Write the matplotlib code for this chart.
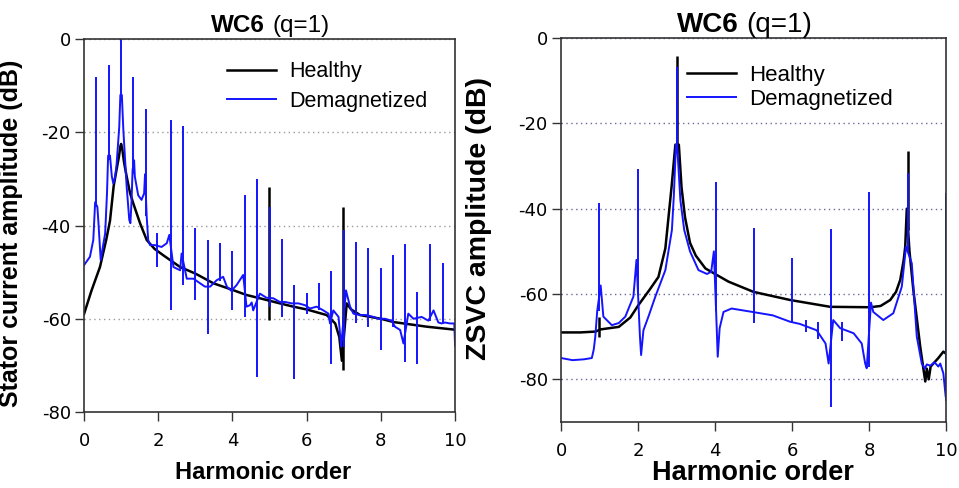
import matplotlib
matplotlib.use("Agg")
import matplotlib.pyplot as plt

plt.rcParams['font.family'] = ['Liberation Sans', 'DejaVu Sans']
plt.rcParams['axes.unicode_minus'] = False

# ---- left panel: stator current spectrum (dB) ----
# smooth part of each trace
cur_h_x = [0, 0.2, 0.43, 0.6, 0.7, 0.8, 0.9, 0.94, 0.98, 1.0, 1.03, 1.08, 1.15, 1.24, 1.33,
           1.51, 1.69, 1.9, 2.14, 2.59, 3.0, 3.49, 4.0, 4.38, 4.74, 5.28, 5.64, 6.0, 6.54,
           6.77, 6.88, 6.95, 7.08, 7.2, 7.44, 8.0, 8.34, 9.24, 9.95, 10]
cur_h_y = [-59, -54, -48.9, -43, -39, -31.5, -27, -25.3, -23, -22.5, -23.5, -26.5, -29.5, -33,
           -35.3, -39.5, -43.1, -45, -46.4, -48.9, -50.3, -52.4, -53.8, -54.9, -55.6, -56.7,
           -57.4, -58, -59.2, -61, -63.9, -69, -56.7, -58, -59.2, -60, -60.7, -61.7, -62.3,
           -62.4]
# narrow spikes: position, top and bottom
cur_h_spk_x = [4.99, 6.985]
cur_h_spk_top = [-31.7, -36]
cur_h_spk_bot = [-60.3, -71]

cur_d_x = [0, 0.16, 0.25, 0.30, 0.36, 0.39, 0.45, 0.52, 0.57, 0.62, 0.65, 0.70, 0.75, 0.79,
           0.84, 0.88, 0.95, 0.98, 1.02, 1.06, 1.15, 1.22, 1.25, 1.28, 1.31, 1.35, 1.37, 1.46,
           1.55, 1.62, 1.645, 1.69, 1.73, 1.78, 1.91, 2.09, 2.23, 2.30, 2.41, 2.59, 2.63,
           2.77, 2.95, 3.13, 3.26, 3.40, 3.58, 3.75, 3.85, 3.97, 4.11, 4.20, 4.29, 4.38, 4.47,
           4.52, 4.56, 4.62, 4.74, 4.92, 5.10, 5.28, 5.42, 5.60, 5.78, 5.96, 6.09, 6.27, 6.45,
           6.59, 6.63, 6.72, 6.86, 6.93, 7.06, 7.17, 7.26, 7.44, 7.60, 7.80, 7.94, 8.11, 8.29,
           8.38, 8.52, 8.61, 8.74, 8.88, 9.10, 9.28, 9.42, 9.55, 9.64, 9.73, 9.86, 9.98, 10.0]
cur_d_y = [-48.5, -46.7, -43.1, -35, -36, -39.5, -47.4, -44, -41.7, -33, -25, -25, -29.5, -31,
           -29.5, -26.7, -18.8, -12, -12, -19.5, -31.7, -38.8, -39.5, -35, -28, -26, -29.5,
           -33.5, -34.5, -33.1, -29, -38.1, -43.1, -44.2, -44.2, -44.6, -43.8, -42, -48.9,
           -49.6, -46, -51.4, -51.4, -52.4, -53.1, -53.1, -51.7, -51, -53.1, -54, -52.8,
           -51.7, -50.6, -57.4, -57.1, -56.5, -58.2, -57, -54.6, -55.5, -55.6, -56.4, -56.4,
           -56.7, -56.7, -57.1, -57.8, -57.4, -58.2, -58.9, -61, -58.2, -59.6, -66, -53.9,
           -57.4, -58.9, -59.2, -59.2, -59.6, -60, -60, -60.4, -61.7, -62.4, -65.3, -58.9, -60,
           -59.6, -60.4, -58.2, -60.8, -61, -60.8, -61, -61, -65.7]
cur_d_spk_x = [0.32, 0.67, 1.0, 1.33, 1.66, 1.98, 2.34, 2.67, 3.0, 3.33, 3.67, 4.0, 4.33,
               4.66, 5.0, 5.33, 5.66, 6.0, 6.33, 6.66, 6.995, 7.33, 7.66, 8.0, 8.32, 8.65,
               8.98, 9.33, 9.67]
cur_d_spk_top = [-8.1, -5.6, 0, -8.1, -14.9, -41.7, -17.4, -18.7, -40.6, -43.1, -43.8, -45.4,
                 -33.5, -30, -36, -42.8, -52.8, -54.4, -52.3, -49.7, -41, -43.5, -44.9, -49.2,
                 -46.4, -44, -54.2, -44, -48.1]
cur_d_spk_bot = [-36, -26, -13, -29, -38, -48.9, -58.2, -52.8, -56, -63.2, -52, -58.2, -59.6,
                 -72.5, -57.4, -59.6, -73, -58.9, -58.2, -69.6, -66, -61, -61.7, -66.7, -61.7,
                 -69.2, -69.6, -60.4, -61]

# ---- right panel: ZSVC spectrum (dB) ----
zsvc_h_x = [0, 0.5, 0.9, 1.02, 1.5, 1.8, 2.01, 2.3, 2.53, 2.71, 2.87, 2.97, 3.06, 3.13, 3.22,
            3.35, 3.5, 3.75, 4.0, 4.35, 5.0, 5.95, 6.99, 8.03, 8.3, 8.55, 8.7, 8.81, 8.9,
            8.94, 8.98, 9.05, 9.15, 9.33, 9.46, 9.5, 9.55, 9.6, 9.67, 9.8, 9.93, 10.0]
zsvc_h_y = [-69, -69, -68.8, -68.3, -67.7, -65.5, -62.6, -59, -56, -49.3, -35, -25, -25, -35,
            -42, -48, -51, -54, -55.3, -57.1, -59.5, -61.4, -63, -63.1, -62.8, -61.4, -59.5,
            -56.7, -52, -48.9, -40, -50, -59, -72.4, -80.5, -77.5, -80, -77, -76.3, -75,
            -73.5, -74]
zsvc_h_spk_x = [0.98, 3.0, 9.0]
zsvc_h_spk_top = [-65.5, -4.2, -26.4]
zsvc_h_spk_bot = [-70, -25, -45]

zsvc_d_x = [0, 0.3, 0.6, 0.8, 0.85, 0.89, 0.94, 1.03, 1.1, 1.32, 1.5, 1.67, 1.88, 1.96, 2.05,
            2.08, 2.14, 2.27, 2.45, 2.71, 2.88, 2.93, 2.985, 3.015, 3.1, 3.2, 3.35, 3.57, 3.79,
            3.9, 3.97, 4.04, 4.07, 4.12, 4.22, 4.43, 4.97, 5.5, 5.95, 6.2, 6.64, 6.87, 6.95,
            7.07, 7.25, 7.6, 7.81, 7.9, 7.94, 8.05, 8.11, 8.37, 8.63, 8.85, 8.96, 9.11, 9.24,
            9.37, 9.45, 9.5, 9.59, 9.7, 9.8, 9.85, 9.93, 9.99]
zsvc_d_y = [-75, -75.5, -75.3, -75, -73, -70, -64, -58, -65.3, -67.3, -66.8, -65.3, -60.6, -52,
            -70, -74.3, -68.5, -65.3, -60.6, -54.4, -45, -37, -25, -25, -38, -45, -50, -54.4,
            -55.3, -54.8, -50, -67, -74.7, -68, -64.2, -63.4, -64.2, -65, -66.5, -67, -68.5,
            -71.6, -76.3, -66.1, -68, -69.2, -71.6, -76.3, -77.4, -62, -64.2, -66.1, -64.5,
            -58.3, -48.9, -52.8, -70, -76.3, -77.5, -76.5, -76.8, -76, -77, -76.3, -78.6, -84]
zsvc_d_spk_x = [0.99, 2.0, 3.0, 4.02, 5.0, 6.0, 6.35, 6.68, 7.0, 7.29, 7.99, 9.0, 9.995]
zsvc_d_spk_top = [-38.6, -30.8, -6.7, -33.7, -44.6, -51.5, -66, -66.5, -44.8, -66.5, -36,
                  -31.7, -36.4]
zsvc_d_spk_bot = [-64, -60, -25, -64, -66.9, -66.9, -69, -70.5, -86.4, -71, -77, -50, -85]

harm_ticks = [0, 2, 4, 6, 8, 10]
db_ticks = [0, -20, -40, -60, -80]
labels = ['Healthy', 'Demagnetized']
colors = ['black', '#1414ff']
widths = [1.8, 1.4]


def draw_trace(ax, bx, by, sx, stop, sbot, i):
    ax.plot(bx, by, color=colors[i], lw=widths[i], label=labels[i])
    ax.vlines(sx, sbot, stop, color=colors[i], lw=widths[i])


def style_axes(ax, grid_color):
    for s in ax.spines.values():
        s.set_color('#333333')
        s.set_linewidth(1.2)
    ax.set_xlim(0, 10)
    ax.set_xticks(harm_ticks)
    ax.set_yticks(db_ticks)
    ax.tick_params(direction='out', length=6.5, width=1, color='#333333', top=False, right=False)
    ax.tick_params(axis='x', pad=8)
    ax.tick_params(axis='y', pad=3)
    for t in ax.get_xticklabels() + ax.get_yticklabels():
        t.set_family('DejaVu Sans')
        t.set_fontsize(13)
    ax.yaxis.grid(True, linestyle=(0, (1, 2.5)), color=grid_color, linewidth=1)
    ax.set_axisbelow(True)


fig = plt.figure(figsize=(9.59, 4.88), dpi=100)
ax1 = fig.add_axes([0.0876, 0.1557, 0.3869, 0.7643])
ax2 = fig.add_axes([0.5850, 0.1352, 0.4015, 0.7869])

# left
draw_trace(ax1, cur_h_x, cur_h_y, cur_h_spk_x, cur_h_spk_top, cur_h_spk_bot, 0)
draw_trace(ax1, cur_d_x, cur_d_y, cur_d_spk_x, cur_d_spk_top, cur_d_spk_bot, 1)
ax1.set_ylim(-80, 0)
style_axes(ax1, '#9a9a9a')
ax1.set_ylabel('Stator current amplitude (dB)', fontsize=18, fontweight='bold')
ax1.yaxis.set_label_coords(-0.164, 0.48)
ax1.set_xlabel('Harmonic order', fontsize=17, fontweight='bold')
ax1.xaxis.set_label_coords(0.482, -0.130)
ax1.text(0.488, 1.0196, 'WC6', ha='right', va='baseline', fontsize=17.5,
         fontweight='bold', transform=ax1.transAxes)
ax1.text(0.509, 1.0196, '(q=1)', ha='left', va='baseline', fontsize=17.5,
         transform=ax1.transAxes)
ax1.legend(loc='upper left', bbox_to_anchor=(0.385, 0.94), frameon=False, fontsize=15.5,
           handlelength=2.28, handletextpad=0.6, labelspacing=0.4, borderpad=0,
           borderaxespad=0)

# right
draw_trace(ax2, zsvc_h_x, zsvc_h_y, zsvc_h_spk_x, zsvc_h_spk_top, zsvc_h_spk_bot, 0)
draw_trace(ax2, zsvc_d_x, zsvc_d_y, zsvc_d_spk_x, zsvc_d_spk_top, zsvc_d_spk_bot, 1)
ax2.set_ylim(-90, 0)
style_axes(ax2, '#6a6a9a')
ax2.set_ylabel('ZSVC amplitude (dB)', fontsize=20.5, fontweight='bold')
ax2.yaxis.set_label_coords(-0.179, 0.53)
ax2.set_xlabel('Harmonic order', fontsize=19.5, fontweight='bold')
ax2.xaxis.set_label_coords(0.499, -0.099)
ax2.text(0.462, 1.0165, 'WC6', ha='right', va='baseline', fontsize=20,
         fontweight='bold', transform=ax2.transAxes)
ax2.text(0.481, 1.0165, '(q=1)', ha='left', va='baseline', fontsize=20,
         transform=ax2.transAxes)
ax2.legend(loc='upper left', bbox_to_anchor=(0.327, 0.93), frameon=False, fontsize=16,
           handlelength=2.2, handletextpad=0.6, labelspacing=0.15, borderpad=0,
           borderaxespad=0)

fig.savefig('out.png', dpi=100)
